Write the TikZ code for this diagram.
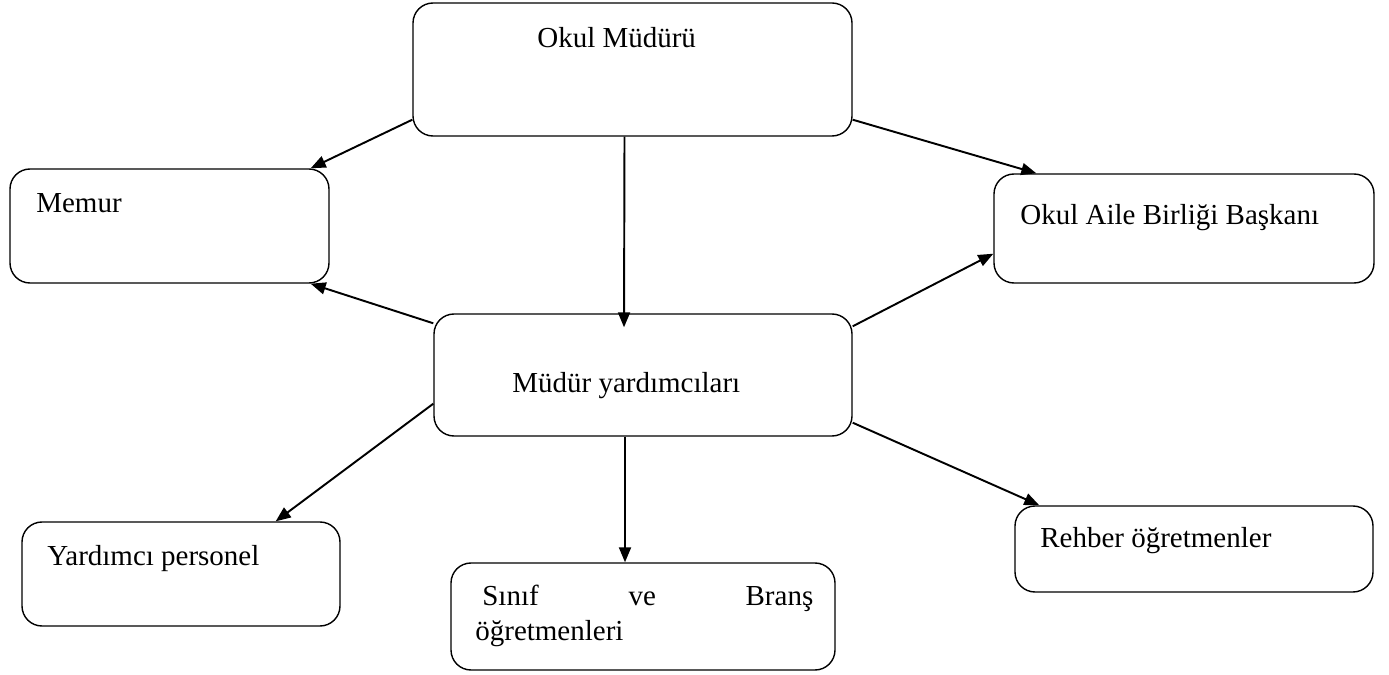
\documentclass[tikz,border=0pt]{standalone}
\usepackage{fontspec}
\setmainfont{Liberation Serif}
\usetikzlibrary{arrows.meta,calc,fit}
\newcommand\Kutu[3]{%
    \node[kutu, fit={#2 #3}] (#1) {};
}

\begin{document}
\begin{tikzpicture}[x=0.02cm,y=-0.02cm,
    kutu/.style={draw,line width=0.8pt,rounded corners=0.4cm,inner sep=0pt},
    yazi/.style={anchor=base west,inner sep=0pt,font=\fontsize{16.5}{20}\selectfont},
    ok/.style={line width=1.1pt,-{Triangle[length=0.3cm,width=0.24cm]}}]
    \useasboundingbox (0,0) rectangle (1389,675);
    % kutular
    \Kutu{mudur}{(413,3)}{(852,136)}
    \Kutu{memur}{(10,169)}{(329,283)}
    \Kutu{aile}{(994,174)}{(1374,283)}
    \Kutu{yard}{(434,314)}{(852,436)}
    \Kutu{personel}{(22,522)}{(340,626)}
    \Kutu{sinif}{(451,563)}{(835,670)}
    \Kutu{rehber}{(1015,506)}{(1373,592)}
    % yazilar
    \node[yazi] (mudurT) at (537,48) {Okul Müdürü};
    \node[yazi] (memurT) at (36,213) {Memur};
    \node[yazi] (aileT) at (1020,225) {Okul Aile Birliği Başkanı};
    \node[yazi] (yardT) at (512,393) {Müdür yardımcıları};
    \node[yazi] (personelT) at (47,565) {Yardımcı personel};
    \node[yazi] (sinifT) at (482,605) {\hbox to 6.62cm{Sınıf\hfill ve\hfill Branş}};
    \node[yazi] (sinifT2) at (475,640) {öğretmenleri};
    \node[yazi] (rehberT) at (1040,547) {Rehber öğretmenler};
    % oklar
    \draw[ok] ($(mudur.south west)+(0,-17)$) -- ($(memur.north east)+(-19,0)$);
    \draw[ok] ($(mudur.south east)+(0,-17)$) -- ($(aile.north west)+(43,0)$);
    \draw[ok] ($(mudur.south)+(-8,0)$) -- ($(yard.north)+(-19,14)$);
    \draw[ok] ($(yard.north west)+(0,10)$) -- ($(memur.south east)+(-19,0)$);
    \draw[ok] ($(yard.north east)+(0,13)$) -- ($(aile.south west)+(0,-30)$);
    \draw[ok] ($(yard.south west)+(0,-33)$) -- ($(personel.north east)+(-65,0)$);
    \draw[ok] ($(yard.south)+(-18,0)$) -- ($(sinif.north)+(-18,0)$);
    \draw[ok] ($(yard.south east)+(0,-14)$) -- ($(rehber.north west)+(25,0)$);
\end{tikzpicture}
\end{document}
